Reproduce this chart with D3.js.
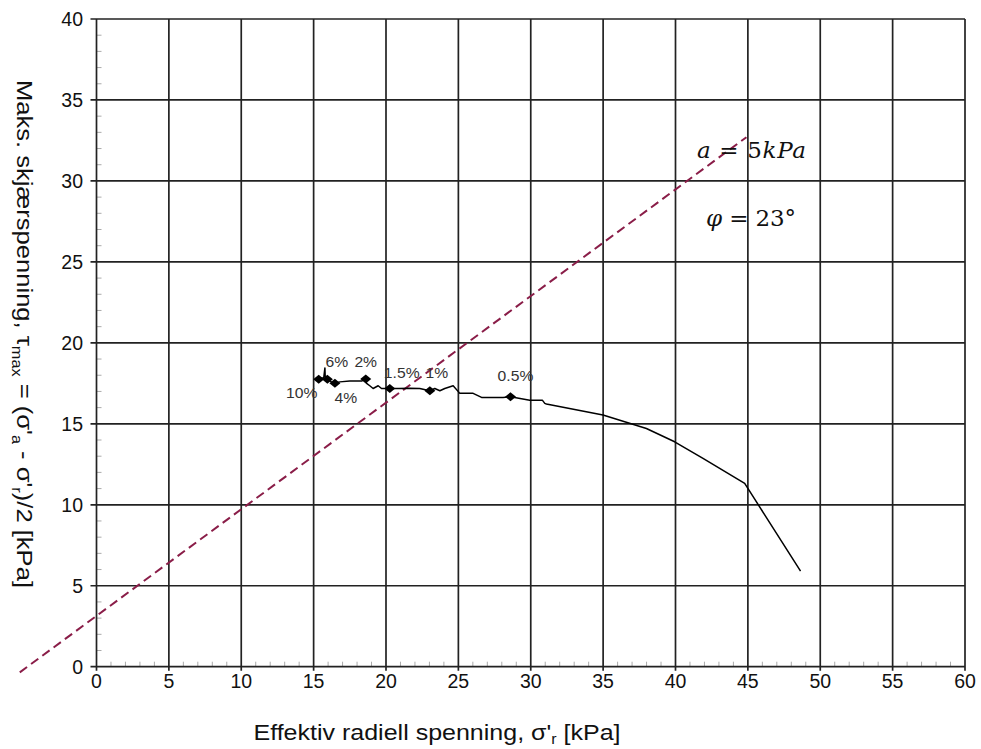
<!DOCTYPE html>
<html>
<head>
<meta charset="utf-8">
<script src="https://cdn.jsdelivr.net/npm/d3@7"></script>
<style>
  html, body { margin: 0; padding: 0; background: #fff; }
  svg { display: block; }
</style>
</head>
<body>
<svg id="chart" width="981" height="749"></svg>
<script>
// ---- data ----
const curveX = [48.64, 44.78, 41.9, 39.94, 37.99, 34.99, 31.08, 30.97, 30.8, 30.74, 29.93, 28.6, 28.09, 26.6, 26.02, 25.1, 24.64, 24.06, 23.72, 23.37, 23.03, 22.33, 21.6, 20.9, 20.26, 19.69, 19.46, 19.11, 18.88, 18.66, 18.6, 18.31, 17.5, 16.81, 16.47, 16.2, 15.95, 15.8, 15.78, 15.7, 15.43, 15.3];
const curveY = [5.9, 11.32, 12.86, 13.89, 14.71, 15.54, 16.22, 16.26, 16.46, 16.46, 16.46, 16.67, 16.63, 16.63, 16.88, 16.88, 17.35, 17.18, 17.04, 17.18, 17.04, 17.18, 17.2, 17.18, 17.18, 17.18, 17.35, 17.18, 17.35, 17.5, 17.76, 17.64, 17.64, 17.59, 17.5, 17.6, 17.75, 17.9, 18.45, 17.85, 17.8, 17.75];
const markerX = [28.6, 23.03, 20.26, 18.6, 16.47, 15.95, 15.35];
const markerY = [16.67, 17.04, 17.18, 17.76, 17.5, 17.75, 17.75];
const markerLabels = ["0.5%", "1%", "1.5%", "2%", "4%", "6%", "10%"];
const envelopeX = [-5.3, 44.9];
const envelopeY = [-0.35, 32.7];
const xTicks = [0, 5, 10, 15, 20, 25, 30, 35, 40, 45, 50, 55, 60];
const yTicks = [0, 5, 10, 15, 20, 25, 30, 35, 40];

// ---- layout ----
const svg = d3.select("#chart");
const L = 96.5, R = 965, T = 19, B = 666.7;
const x = d3.scaleLinear().domain([0, 60]).range([L, R]);
const y = d3.scaleLinear().domain([0, 40]).range([B, T]);
const font = "'Liberation Sans', Arial, sans-serif";

svg.append("rect").attr("width", 981).attr("height", 749).attr("fill", "#fff");

// minor ticks (inside, gray)
const minorX = d3.range(0, 61, 1).filter(v => v % 5 !== 0);
const minorY = d3.range(0, 41, 1).filter(v => v % 5 !== 0);
svg.append("g").selectAll("line").data(minorX).join("line")
  .attr("x1", d => x(d)).attr("x2", d => x(d))
  .attr("y1", B).attr("y2", B - 5)
  .attr("stroke", "#aaa").attr("stroke-width", 1);
svg.append("g").selectAll("line").data(minorY).join("line")
  .attr("y1", d => y(d)).attr("y2", d => y(d))
  .attr("x1", L).attr("x2", L + 5)
  .attr("stroke", "#aaa").attr("stroke-width", 1);

// grid
svg.append("g").selectAll("line").data(xTicks).join("line")
  .attr("x1", d => x(d)).attr("x2", d => x(d))
  .attr("y1", T).attr("y2", B + 4)
  .attr("stroke", "#222").attr("stroke-width", 1.7);
svg.append("g").selectAll("line").data(yTicks).join("line")
  .attr("y1", d => y(d)).attr("y2", d => y(d))
  .attr("x1", L - 6).attr("x2", R)
  .attr("stroke", "#222").attr("stroke-width", 1.7);

// tick labels
svg.append("g").selectAll("text").data(xTicks).join("text")
  .attr("x", d => x(d)).attr("y", 688)
  .attr("text-anchor", "middle")
  .attr("font-family", font).attr("font-size", 19.5).attr("fill", "#111")
  .text(d => d);
svg.append("g").selectAll("text").data(yTicks).join("text")
  .attr("x", 83).attr("y", d => y(d) + 7)
  .attr("text-anchor", "end")
  .attr("font-family", font).attr("font-size", 19.5).attr("fill", "#111")
  .text(d => d);

// envelope dashed line
const lineGen = d3.line().x(d => x(d[0])).y(d => y(d[1]));
svg.append("path")
  .datum(envelopeX.map((v, i) => [v, envelopeY[i]]))
  .attr("d", lineGen)
  .attr("fill", "none").attr("stroke", "#8a1d48")
  .attr("stroke-width", 2).attr("stroke-dasharray", "9,5");

// stress path
svg.append("path")
  .datum(curveX.map((v, i) => [v, curveY[i]]))
  .attr("d", lineGen)
  .attr("fill", "none").attr("stroke", "#000")
  .attr("stroke-width", 1.5).attr("stroke-linejoin", "round");

// markers (squat diamonds)
svg.append("g").selectAll("path").data(markerX).join("path")
  .attr("d", "M-5.5,0L0,-4.5L5.5,0L0,4.5Z")
  .attr("transform", (d, i) => `translate(${x(d)},${y(markerY[i])})`)
  .attr("fill", "#000");

// marker labels (offsets in px)
const labelOffsets = [[5, -15.5], [7, -12.5], [12, -10.5], [0, -12], [11, 20], [9.5, -12], [-17, 19]];
const ml = svg.append("g").selectAll("text").data(markerLabels).join("text")
  .attr("x", (d, i) => x(markerX[i]) + labelOffsets[i][0])
  .attr("y", (d, i) => y(markerY[i]) + labelOffsets[i][1])
  .attr("text-anchor", "middle")
  .attr("font-family", font).attr("font-size", 14).attr("fill", "#333")
  .text(d => d);
ml.each(function() {
  const w = this.getComputedTextLength();
  d3.select(this).attr("textLength", w * 1.12).attr("lengthAdjust", "spacingAndGlyphs");
});

// annotations
const mathFont = "'DejaVu Serif', 'Liberation Serif', serif";
const a1 = svg.append("text").attr("x", 697).attr("y", 158)
  .attr("font-family", mathFont).attr("font-size", 23).attr("fill", "#111")
  .attr("textLength", 109).attr("lengthAdjust", "spacing");
a1.append("tspan").attr("font-style", "italic").text("a");
a1.append("tspan").text(" = 5");
a1.append("tspan").attr("font-style", "italic").text("kPa");
const a2 = svg.append("text").attr("x", 706).attr("y", 226)
  .attr("font-family", mathFont).attr("font-size", 23).attr("fill", "#111")
  .attr("textLength", 90).attr("lengthAdjust", "spacing");
a2.append("tspan").attr("font-style", "italic").text("φ");
a2.append("tspan").text(" = 23°");

// axis titles
const xt = svg.append("text").attr("x", 437).attr("y", 740)
  .attr("text-anchor", "middle")
  .attr("font-family", font).attr("font-size", 22).attr("fill", "#111")
  .attr("textLength", 367).attr("lengthAdjust", "spacingAndGlyphs");
xt.append("tspan").text("Effektiv radiell spenning,  σ'");
xt.append("tspan").attr("font-size", 14).attr("dy", 4).text("r");
xt.append("tspan").attr("dy", -4).text(" [kPa]");

const yt = svg.append("text")
  .attr("transform", "translate(17,334) rotate(90)")
  .attr("text-anchor", "middle")
  .attr("font-family", font).attr("font-size", 22).attr("fill", "#111")
  .attr("textLength", 508).attr("lengthAdjust", "spacingAndGlyphs");
yt.append("tspan").text("Maks. skjærspenning, τ");
yt.append("tspan").attr("font-size", 14).attr("dy", 5).text("max");
yt.append("tspan").attr("dy", -5).text(" = (σ'");
yt.append("tspan").attr("font-size", 14).attr("dy", 5).text("a");
yt.append("tspan").attr("dy", -5).text(" - σ'");
yt.append("tspan").attr("font-size", 14).attr("dy", 5).text("r");
yt.append("tspan").attr("dy", -5).text(")/2  [kPa]");
</script>
</body>
</html>
